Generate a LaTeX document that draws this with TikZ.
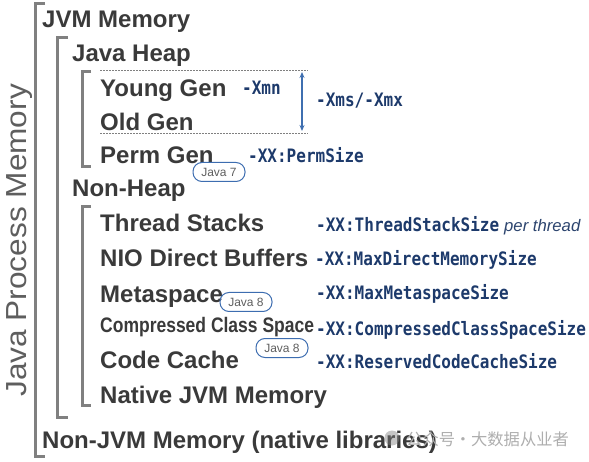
\documentclass[tikz,border=0pt]{standalone}
\usepackage{fontspec}
\usepackage{graphicx}
\setmainfont{Liberation Sans}
\newfontfamily\monof{DejaVu Sans Mono}
\newfontfamily\cjkf{Noto Sans CJK SC}
\usetikzlibrary{arrows.meta}
\definecolor{lblc}{HTML}{3A3A3A}
\definecolor{optc}{HTML}{1D3A6B}
\definecolor{brk}{HTML}{808080}
\definecolor{arrc}{HTML}{3F6FB0}
\definecolor{badgec}{HTML}{3D6DB0}
\definecolor{procc}{HTML}{5E5E5E}
\definecolor{wmc}{HTML}{AEAEAE}
\newcommand\mscale[1]{\scalebox{0.865}[1]{#1}}
\begin{document}
\begin{tikzpicture}[x=1pt,y=-1pt,
  lbl/.style={anchor=base west, inner sep=0pt, text=lblc, font=\bfseries\fontsize{24}{28}\selectfont},
  opt/.style={anchor=base west, inner sep=0pt, text=optc, font=\monof\bfseries\fontsize{18.5}{20}\selectfont},
  brack/.style={draw=brk, line width=3pt, line cap=butt, line join=miter},
  dashline/.style={draw=gray, line width=0.7pt, dash pattern=on 1.6pt off 1.4pt},
  badge/.style={draw=badgec, line width=1pt, rounded corners=9pt, minimum width=52pt, minimum height=19pt, inner sep=0pt, text=procc, font=\fontsize{12}{13}\selectfont},
  dimarrow/.style={draw=arrc, line width=1.1pt, {Stealth[length=6pt,width=5pt]}-{Stealth[length=6pt,width=5pt]}}
]
\useasboundingbox (0,0) rectangle (589,462);

% brackets
\draw[brack] (45,4) -- (35,4) -- (35,456) -- (45,456);
\draw[brack] (68,38) -- (57,38) -- (57,417) -- (68,417);
\draw[brack] (91,72) -- (82,72) -- (82,167) -- (91,167);
\draw[brack] (91,207) -- (82,207) -- (82,405) -- (91,405);

% vertical title
\node[rotate=90, anchor=base west, inner sep=0pt, text=procc, font=\fontsize{29}{32}\selectfont] (proc) at (26,397) {\scalebox{1.09}[1]{Java Process Memory}};

% labels
\node[lbl] (jvm) at (42,28) {JVM Memory};
\node[lbl] (heap) at (72,62) {Java Heap};
\node[lbl] (young) at (100,97) {Young Gen};
\node[lbl] (old) at (100,131) {Old Gen};
\node[lbl] (perm) at (100,164) {Perm Gen};
\node[lbl] (nonheap) at (72,197) {Non-Heap};
\node[lbl] (thread) at (100,232) {Thread Stacks};
\node[lbl] (nio) at (100,267) {NIO Direct Buffers};
\node[lbl] (meta) at (100,302) {Metaspace};
\node[lbl, font=\bfseries\fontsize{21}{24}\selectfont] (ccs) at (100,333) {\scalebox{0.833}[1]{Compressed Class Space}};
\node[lbl] (code) at (100,368) {Code Cache};
\node[lbl] (native) at (100,403) {Native JVM Memory};
\node[lbl] (nonjvm) at (42,448) {Non-JVM Memory (native libraries)};

% dashed lines and arrow
\coordinate (d1a) at (100,70);
\coordinate (d1b) at (308,70);
\coordinate (d2a) at (100,133);
\coordinate (d2b) at (308,133);
\draw[dashline] (d1a) -- (d1b);
\draw[dashline] (d2a) -- (d2b);
\coordinate (arrt) at (302,72);
\coordinate (arrb) at (302,131);
\draw[dimarrow] (arrt) -- (arrb);

% options
\node[opt] (xmn) at (242,95) {\mscale{-Xmn}};
\node[opt] (xms) at (316,107) {\mscale{-Xms/-Xmx}};
\node[opt] (permsz) at (248,163) {\mscale{-XX:PermSize}};
\node[opt] (tss) at (316,232) {\mscale{-XX:ThreadStackSize}};
\node[anchor=base west, inner sep=0pt, text=optc!85!gray, font=\itshape\fontsize{16.7}{18}\selectfont] (perthread) at (504,232) {per thread};
\node[opt] (mdms) at (315,266) {\mscale{-XX:MaxDirectMemorySize}};
\node[opt] (mms) at (316,300) {\mscale{-XX:MaxMetaspaceSize}};
\node[opt] (ccss) at (316,335) {\mscale{-XX:CompressedClassSpaceSize}};
\node[opt] (rccs) at (316,368) {\mscale{-XX:ReservedCodeCacheSize}};

% badges
\node[badge] (j7) at (219,172) {Java 7};
\node[badge] (j8a) at (246,302) {Java 8};
\node[badge] (j8b) at (282,348) {Java 8};

% watermark
\fill[gray, opacity=0.45] (392,438) circle (7.5pt);
\node[anchor=base west, inner sep=0pt, text=wmc, font=\cjkf\fontsize{16.3}{18}\selectfont] (wm) at (406,445) {公众号\makebox[16pt]{·}大数据从业者};
\end{tikzpicture}
\end{document}
